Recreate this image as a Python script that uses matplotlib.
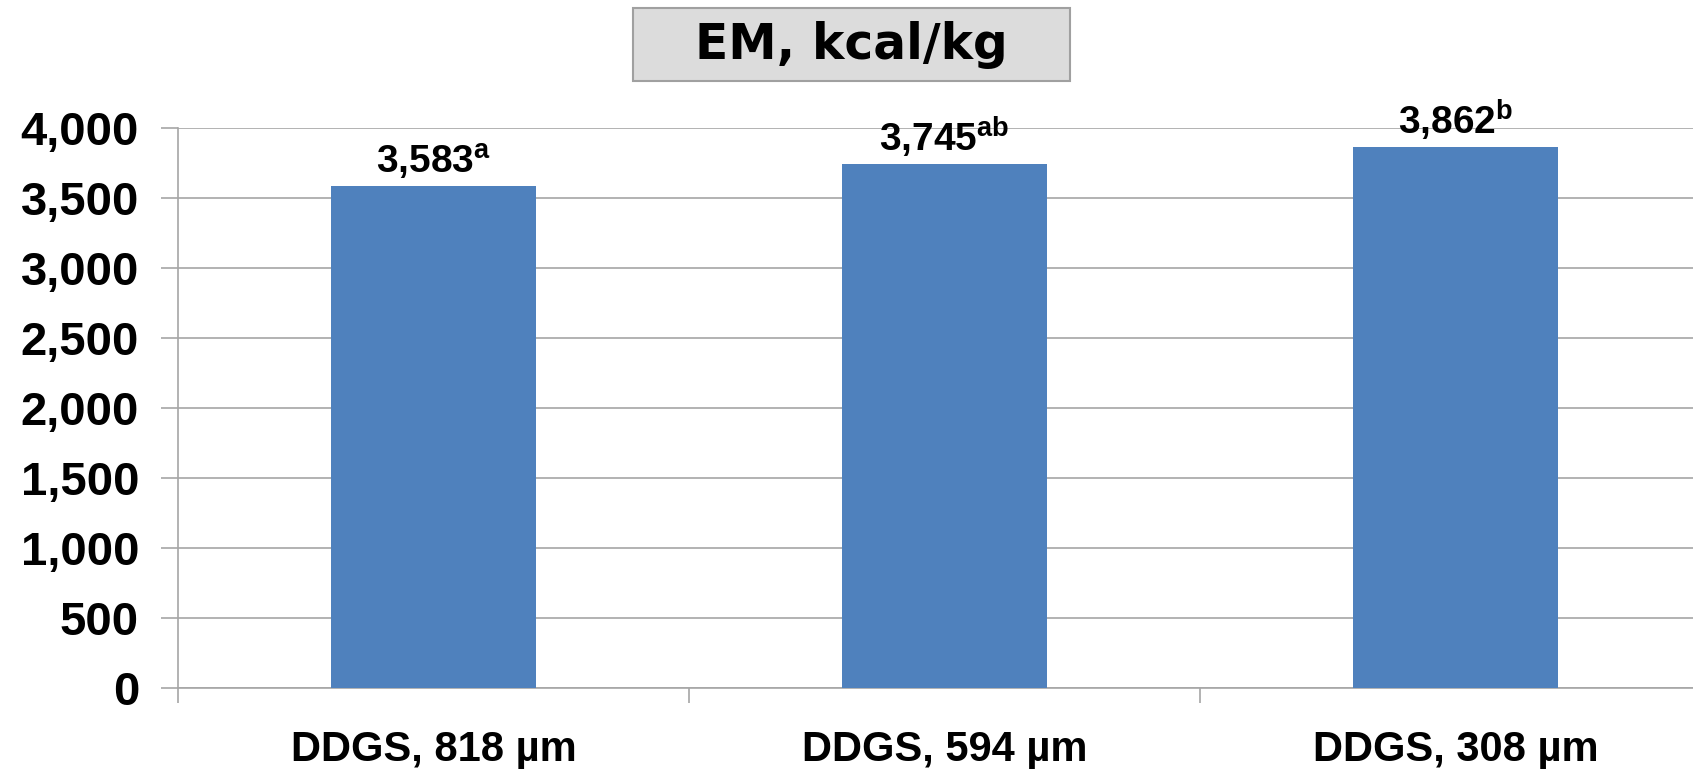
import matplotlib
matplotlib.use("Agg")
import matplotlib.pyplot as plt
from matplotlib.patches import Rectangle

matplotlib.rcParams['font.family'] = 'Liberation Sans'
matplotlib.rcParams['mathtext.fontset'] = 'custom'
matplotlib.rcParams['mathtext.rm'] = 'Liberation Sans'
matplotlib.rcParams['mathtext.bf'] = 'Liberation Sans:bold'

categories = ["DDGS, 818 µm", "DDGS, 594 µm", "DDGS, 308 µm"]
values = [3583, 3745, 3862]
letters = ["a", "ab", "b"]
yticks = [0, 500, 1000, 1500, 2000, 2500, 3000, 3500, 4000]
title = "EM, kcal/kg"

W, H = 1693, 769
fig = plt.figure(figsize=(W / 100, H / 100), dpi=100)
ax = fig.add_axes([178 / W, 1 - 688 / H, 1533 / W, 560 / H])

grey = '#a6a6a6'
x = list(range(len(categories)))
ax.bar(x, values, width=0.40, color='#4f81bd', zorder=3)

for xi, v, l in zip(x, values, letters):
    s = f"{v:,}".replace(",", "{,}")
    ax.annotate(r"$\mathbf{" + s + "}^{\\mathbf{" + l + "}}$", (xi, v),
                xytext=(0, 3), textcoords='offset points',
                ha='center', va='bottom', fontsize=28, zorder=4)

ax.set_xlim(-0.5, 2.5)
ax.set_ylim(0, 4000)
ax.set_yticks(yticks)
ax.set_yticklabels([f"{t:,}" for t in yticks], fontsize=34, fontweight='bold')
ax.set_xticks(x)
ax.set_xticklabels(categories, fontsize=30, fontweight='bold')
ax.set_xticks([-0.5, 0.5, 1.5, 2.5], minor=True)
ax.tick_params(axis='x', which='major', length=0, pad=30)
ax.tick_params(axis='x', which='minor', length=11, color=grey, width=1.2, direction='out')
ax.tick_params(axis='y', length=12, color=grey, width=1.2, pad=16)

ax.yaxis.grid(True, color=grey, linewidth=1.2, zorder=0)
for side in ['top', 'right']:
    ax.spines[side].set_visible(False)
for side in ['left', 'bottom']:
    ax.spines[side].set_color(grey)
    ax.spines[side].set_linewidth(1.2)

fig.patches.append(Rectangle((633 / W, 1 - 81 / H), 437 / W, 73 / H,
                             transform=fig.transFigure, facecolor='#dcdcdc',
                             edgecolor='#a0a0a0', linewidth=1.5))
fig.text(851.5 / W, 1 - 45 / H, title, ha='center', va='center',
         fontsize=35, fontweight='bold', family='DejaVu Sans')

fig.savefig("out.png", dpi=100)
